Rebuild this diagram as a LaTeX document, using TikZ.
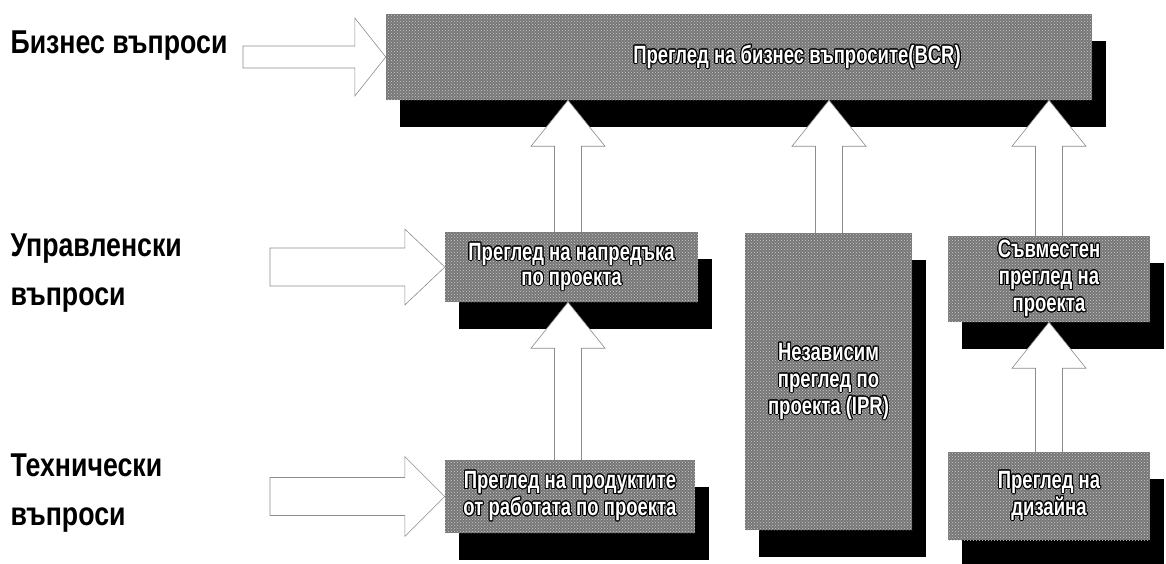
\documentclass[tikz,border=0pt]{standalone}
\usepackage{fontspec}
\setmainfont{Liberation Sans}
\newfontfamily\narrowfont[FakeStretch=0.74]{Liberation Sans}
\newfontfamily\labelfont[FakeStretch=0.81]{Liberation Sans}
\usepackage{contour}
\contourlength{1pt}
\usetikzlibrary{calc,shadows,patterns}
\definecolor{boxgray}{RGB}{118,118,118}
\definecolor{dotgray}{RGB}{205,205,205}
\definecolor{arrowline}{RGB}{140,140,140}
\newcommand\vblock[3]{%
  \path (#2.north -| #1) coordinate (vb-s) (#3.south -| #1) coordinate (vb-t);
  \draw[hollow] ($(vb-s)+(-13.5,0)$) -- ($(vb-t)+(-13.5,46)$) -- ($(vb-t)+(-37,46)$)
    -- (vb-t) -- ($(vb-t)+(37,46)$) -- ($(vb-t)+(13.5,46)$) -- ($(vb-s)+(13.5,0)$);}
\newcommand\hblock[5]{%
  \path (#2.west) coordinate (hb-t) (#1 |- hb-t) coordinate (hb-s);
  \draw[hollow] ($(hb-s)+(0,-#3)$) -- ($(hb-t)+(-#5,-#3)$) -- ($(hb-t)+(-#5,-#4)$)
    -- (hb-t) -- ($(hb-t)+(-#5,#4)$) -- ($(hb-t)+(-#5,#3)$) -- ($(hb-s)+(0,#3)$) -- cycle;}
\begin{document}
\begin{tikzpicture}[x=1pt,y=-1pt,
  box/.style={drop shadow={shadow xshift=14pt,shadow yshift=-27pt,fill=black,opacity=1},
    preaction={fill=boxgray}, pattern=crosshatch dots, pattern color=dotgray,
    inner sep=0pt, text=white, align=center,
    font=\narrowfont\bfseries\fontsize{25}{27}\selectfont},
  hollow/.style={draw=arrowline, fill=white, line width=0.6pt},
  side/.style={anchor=west, align=left, font=\labelfont\bfseries\fontsize{33}{49}\selectfont}]
\useasboundingbox (0,0) rectangle (1166,563);

% boxes
\node[box, minimum width=706pt, minimum height=86pt] (bcr) at (739,57)
  {\hspace*{116pt}\contour{black}{Преглед на бизнес въпросите(BCR)}};
\node[box, minimum width=253pt, minimum height=70pt] (nap) at (571.5,267)
  {\contour{black}{Преглед на напредъка}\\[-2pt]\contour{black}{по проекта}};
\node[box, minimum width=250pt, minimum height=73pt] (tech) at (570,496.5)
  {\contour{black}{Преглед на продуктите}\\\contour{black}{от работата по проекта}};
\node[box, minimum width=167pt, minimum height=297pt] (ipr) at (828.5,381.5)
  {\contour{black}{Независим}\\\contour{black}{преглед по}\\\contour{black}{проекта (IPR)}};
\node[box, minimum width=202pt, minimum height=86pt] (joint) at (1049,279)
  {\contour{black}{Съвместен}\\\contour{black}{преглед на}\\\contour{black}{проекта}};
\node[box, minimum width=202pt, minimum height=88pt] (design) at (1049,496)
  {\contour{black}{Преглед на}\\\contour{black}{дизайна}};

% side labels
\node[side] (lbiz) at (7,46) {Бизнес въпроси};
\node[side] (lman) at (7,273) {Управленски\\въпроси};
\node[side] (ltec) at (7,493) {Технически\\въпроси};

% vertical arrows
\coordinate (xa) at (568,0);
\coordinate (xb) at (829,0);
\coordinate (xc) at (1049,0);
\vblock{xa}{nap}{bcr}
\vblock{xb}{ipr}{bcr}
\vblock{xc}{joint}{bcr}
\vblock{xa}{tech}{nap}
\vblock{xc}{design}{joint}

% horizontal arrows
\coordinate (s1) at (243,0);
\coordinate (s2) at (270,0);
\hblock{s1}{bcr}{11}{39}{31}
\hblock{s2}{nap}{19}{38}{40}
\hblock{s2}{tech}{19}{40}{40}
\end{tikzpicture}
\end{document}
